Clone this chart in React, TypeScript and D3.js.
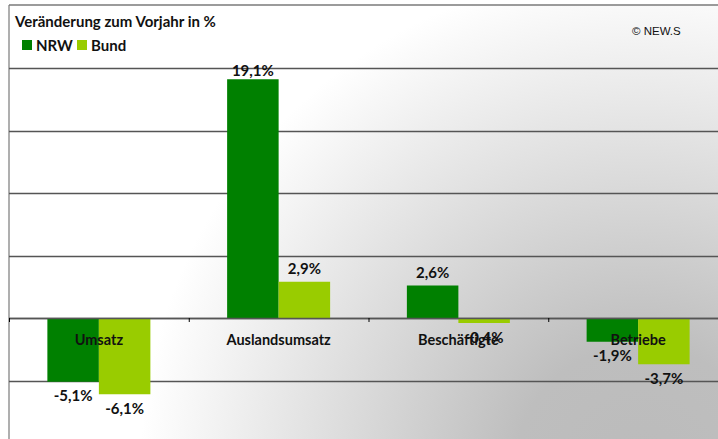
import React, { useRef, useEffect } from 'react';
import * as d3 from 'd3';

const categories = ['Umsatz', 'Auslandsumsatz', 'Beschäftigte', 'Betriebe'];
const seriesNames = ['NRW', 'Bund'];
const nrwValues = [-5.1, 19.1, 2.6, -1.9];
const bundValues = [-6.1, 2.9, -0.4, -3.7];
const gridValues = [20, 15, 10, 5, 0, -5];

const colors = ['#008000', '#99cc00'];
const font = 'Lato, "DejaVu Sans", sans-serif';

const W = 718;
const H = 439;

const fmt = (v: number) => `${v.toFixed(1).replace('.', ',')}%`;

const App: React.FC = () => {
  const ref = useRef<SVGSVGElement | null>(null);

  useEffect(() => {
    if (!ref.current) return;
    const svg = d3.select(ref.current);
    svg.selectAll('*').remove();

    // plot area runs past the picture edge (right and bottom are cut off)
    const x0 = 9;
    const x1 = 728;
    const yTop = 68;

    const y = d3.scaleLinear().domain([20, -10]).range([yTop, yTop + 375]);
    const x = d3.scaleBand<string>().domain(categories).range([x0, x1]).padding(0);
    const inner = d3.scaleBand<string>()
      .domain(seriesNames)
      .range([x.bandwidth() * 0.2135, x.bandwidth() * (1 - 0.2135)])
      .padding(0);

    // background: grey towards the bottom right
    const defs = svg.append('defs');
    const grad = defs.append('radialGradient')
      .attr('id', 'bg')
      .attr('gradientUnits', 'userSpaceOnUse')
      .attr('cx', 640).attr('cy', 470)
      .attr('r', 500);
    grad.append('stop').attr('offset', 0).attr('stop-color', '#bbbbbb');
    grad.append('stop').attr('offset', 0.25).attr('stop-color', '#bebebe');
    grad.append('stop').attr('offset', 1).attr('stop-color', '#ffffff');

    svg.append('rect')
      .attr('x', 0).attr('y', 0)
      .attr('width', W).attr('height', H)
      .attr('fill', '#ffffff');
    svg.append('rect')
      .attr('x', x0).attr('y', 5)
      .attr('width', W - x0).attr('height', H - 5)
      .attr('fill', 'url(#bg)');

    // frame
    svg.append('line')
      .attr('x1', x0).attr('x2', W)
      .attr('y1', 5).attr('y2', 5)
      .attr('stroke', '#7a7a7a').attr('stroke-width', 1.5);
    svg.append('line')
      .attr('x1', x0).attr('x2', x0)
      .attr('y1', 5).attr('y2', H)
      .attr('stroke', '#7a7a7a').attr('stroke-width', 1.2);

    // grid lines
    svg.append('g')
      .selectAll('line')
      .data(gridValues)
      .enter()
      .append('line')
      .attr('x1', x0).attr('x2', W)
      .attr('y1', d => Math.round(y(d)) + 0.5)
      .attr('y2', d => Math.round(y(d)) + 0.5)
      .attr('stroke', '#555')
      .attr('stroke-width', 1.5);

    // bars
    const groups = svg.append('g')
      .selectAll('g')
      .data(categories)
      .enter()
      .append('g')
      .attr('transform', d => `translate(${x(d)},0)`);

    const barData = (i: number) => seriesNames.map((s, k) => ({
      s,
      k,
      v: k === 0 ? nrwValues[i] : bundValues[i],
    }));

    groups.each(function (_c, i) {
      const g = d3.select(this);
      barData(i).forEach(b => {
        g.append('rect')
          .attr('x', inner(b.s)!)
          .attr('y', Math.min(y(b.v), y(0)))
          .attr('width', inner.bandwidth())
          .attr('height', Math.abs(y(b.v) - y(0)))
          .attr('fill', colors[b.k]);
      });
    });

    // zero line on top of bars + ticks
    svg.append('line')
      .attr('x1', x0).attr('x2', W)
      .attr('y1', Math.round(y(0)) + 0.5).attr('y2', Math.round(y(0)) + 0.5)
      .attr('stroke', '#555').attr('stroke-width', 1.5);
    svg.append('g')
      .selectAll('line')
      .data(categories)
      .enter()
      .append('line')
      .attr('x1', d => x(d)! + 0.5)
      .attr('x2', d => x(d)! + 0.5)
      .attr('y1', y(0))
      .attr('y2', y(0) + 4)
      .attr('stroke', '#000');

    // category labels
    svg.append('g')
      .selectAll('text')
      .data(categories)
      .enter()
      .append('text')
      .attr('x', d => x(d)! + x.bandwidth() / 2)
      .attr('y', y(0) + 27)
      .attr('text-anchor', 'middle')
      .attr('font-family', font)
      .attr('font-weight', 'bold')
      .attr('font-size', 14.5)
      .attr('fill', '#111')
      .text(d => d);

    // value labels
    groups.each(function (_c, i) {
      const g = d3.select(this);
      barData(i).forEach(b => {
        const cx = inner(b.s)! + inner.bandwidth() / 2;
        const ty = b.v >= 0
          ? Math.max(y(b.v) - 8, y(20) + 8)
          : y(b.v) + 19.5;
        g.append('text')
          .attr('x', cx)
          .attr('y', ty)
          .attr('text-anchor', 'middle')
          .attr('font-family', font)
          .attr('font-weight', 'bold')
          .attr('font-size', 15)
          .attr('fill', '#111')
          .text(fmt(b.v));
      });
    });

    // title + legend
    svg.append('text')
      .attr('x', 15).attr('y', 27)
      .attr('font-family', font)
      .attr('font-weight', 'bold')
      .attr('font-size', 15)
      .attr('fill', '#111')
      .text('Veränderung zum Vorjahr in %');

    const legend = svg.append('g').attr('transform', 'translate(22,40)');
    const legendX = [0, 55];
    seriesNames.forEach((s, k) => {
      legend.append('rect')
        .attr('x', legendX[k]).attr('y', 0)
        .attr('width', 10).attr('height', 10)
        .attr('fill', colors[k]);
      legend.append('text')
        .attr('x', legendX[k] + 14).attr('y', 10.5)
        .attr('font-family', font)
        .attr('font-weight', 'bold')
        .attr('font-size', 15)
        .attr('fill', '#111')
        .text(s);
    });

    svg.append('text')
      .attr('x', 632).attr('y', 35)
      .attr('font-family', '"Liberation Sans", Arial, sans-serif')
      .attr('font-size', 11.5)
      .attr('fill', '#111')
      .text('© NEW.S');
  }, []);

  return (
    <svg
      ref={ref}
      width={W}
      height={H}
      style={{ position: 'absolute', left: 0, top: 0, display: 'block' }}
    />
  );
};

export default App;
